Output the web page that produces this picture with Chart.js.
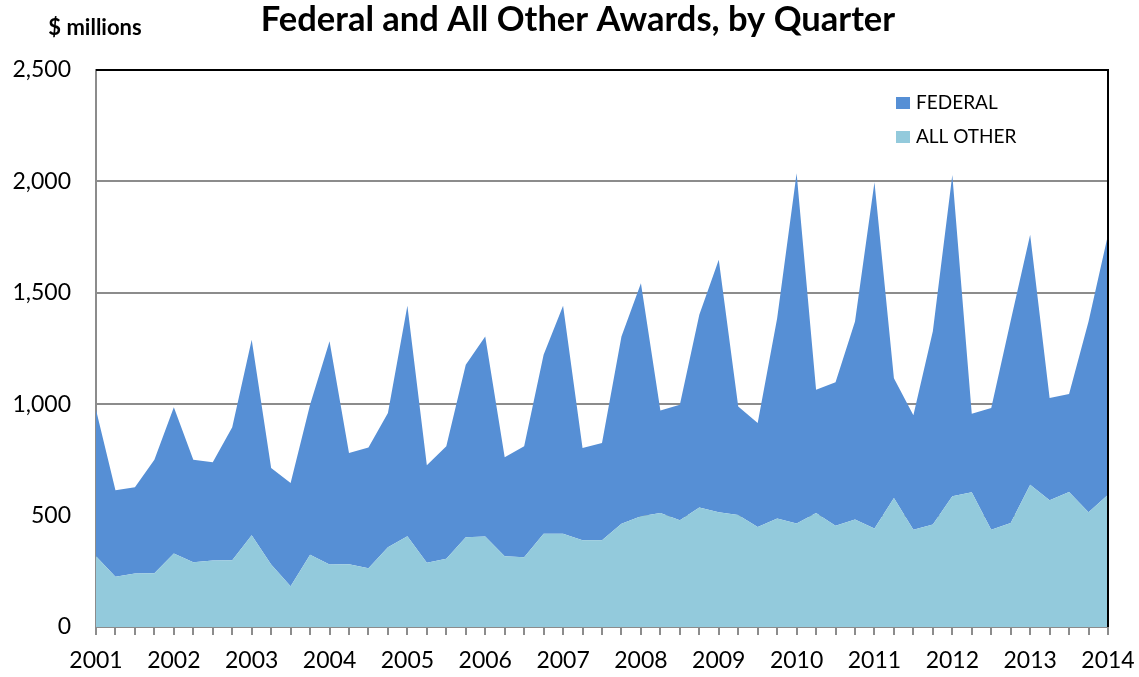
<!DOCTYPE html>
<html>
<head>
<meta charset="utf-8">
<script src="https://cdn.jsdelivr.net/npm/chart.js@4/dist/chart.umd.min.js"></script>
<style>
html,body{margin:0;padding:0;background:#fff;}
#wrap{position:relative;width:1139px;height:677px;}
</style>
</head>
<body>
<div id="wrap"><canvas id="c" width="1139" height="677"></canvas></div>
<script>
const years = ['2001','2002','2003','2004','2005','2006','2007','2008','2009','2010','2011','2012','2013','2014'];
const quarters = [];
for (let y = 2001; y <= 2014; y++) {
  const qs = y === 2014 ? ['Q1'] : ['Q1','Q2','Q3','Q4'];
  qs.forEach(q => quarters.push(y + ' ' + q));
}
const allOther = [318,226,240,241,330,291,298,300,412,280,183,324,280,282,264,358,407,288,306,403,406,318,313,419,419,389,389,463,497,512,479,536,515,503,449,487,464,512,455,482,442,579,437,460,587,605,437,467,639,569,606,515,594];
const federal = [657,388,387,510,656,460,441,596,877,434,463,674,1002,499,542,602,1035,438,505,774,898,444,498,803,1023,414,437,841,1046,460,519,865,1133,487,467,899,1573,553,644,889,1554,538,513,867,1442,352,546,908,1121,459,440,856,1166];
const yTicks = [0,500,1000,1500,2000,2500];

const FED_COLOR = '#568fd5';
const OTHER_COLOR = '#93cadc';
const FONT = 'Lato';

const decor = {
  id: 'decor',
  afterDraw(chart) {
    const ctx = chart.ctx;
    const a = chart.chartArea;
    ctx.save();
    // black top and right border
    ctx.strokeStyle = '#000';
    ctx.lineWidth = 2;
    ctx.beginPath();
    ctx.moveTo(a.left, a.top);
    ctx.lineTo(a.right, a.top);
    ctx.lineTo(a.right, a.bottom);
    ctx.stroke();
    // title
    ctx.fillStyle = '#000';
    ctx.textAlign = 'center';
    ctx.textBaseline = 'middle';
    ctx.font = 'bold 34.5px ' + FONT;
    ctx.fillText('Federal and All Other Awards, by Quarter', 578, 20);
    ctx.font = 'bold 22px ' + FONT;
    ctx.fillText('$ millions', 95, 28);
    // legend
    const items = [[chart.data.datasets[1].label, chart.data.datasets[1].backgroundColor, 103],
                   [chart.data.datasets[0].label, chart.data.datasets[0].backgroundColor, 137]];
    ctx.textAlign = 'left';
    ctx.font = '19px ' + FONT;
    items.forEach(([t, col, y]) => {
      ctx.fillStyle = col;
      ctx.fillRect(896, y - 6, 14, 12);
      ctx.fillStyle = '#000';
      ctx.fillText(t, 916, y);
    });
    ctx.restore();
  }
};

new Chart(document.getElementById('c'), {
  type: 'line',
  data: {
    labels: quarters,
    datasets: [
      { label: 'ALL OTHER', data: allOther, backgroundColor: OTHER_COLOR, borderWidth: 0, pointRadius: 0, fill: 'origin', tension: 0 },
      { label: 'FEDERAL', data: federal, backgroundColor: FED_COLOR, borderWidth: 0, pointRadius: 0, fill: '-1', tension: 0 }
    ]
  },
  options: {
    responsive: false,
    animation: false,
    layout: { padding: { top: 70, right: 31, left: 0, bottom: 0 } },
    plugins: { legend: { display: false }, title: { display: false }, tooltip: { enabled: false } },
    scales: {
      x: {
        type: 'category',
        offset: false,
        grid: { display: true, drawOnChartArea: false, drawTicks: true, tickLength: 8, color: '#8c8c8c', lineWidth: 2 },
        border: { display: true, color: '#8c8c8c', width: 2 },
        ticks: {
          autoSkip: false, maxRotation: 0, minRotation: 0, padding: 12, color: '#000',
          font: { family: FONT, size: 23 },
          callback: (v, i) => (i % 4 === 0 ? years[i / 4] : '')
        },
        afterFit: s => { s.height = 50; s.paddingLeft = 0; s.paddingRight = 0; }
      },
      y: {
        stacked: true,
        min: 0, max: 2500,
        afterBuildTicks: s => { s.ticks = yTicks.map(v => ({ value: v })); },
        grid: { color: '#8c8c8c', lineWidth: 2, drawTicks: false },
        border: { display: true, color: '#8c8c8c', width: 2 },
        ticks: {
          padding: 25, color: '#000',
          font: { family: FONT, size: 23 },
          callback: v => v.toLocaleString('en-US')
        },
        afterFit: s => { s.width = 96; s.paddingTop = 0; s.paddingBottom = 0; }
      }
    }
  },
  plugins: [decor]
});
</script>
</body>
</html>
